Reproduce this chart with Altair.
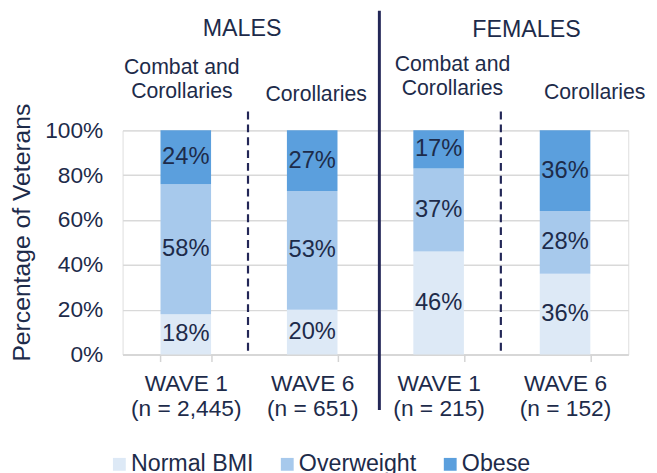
import altair as alt
import pandas as pd

groups = ["WAVE 1|(n = 2,445)", "WAVE 6|(n = 651)", "WAVE 1|(n = 215)", "WAVE 6|(n = 152)"]
bmi_classes = ["Normal BMI", "Overweight", "Obese"]
normal_bmi = [18, 20, 46, 36]
overweight = [58, 53, 37, 28]
obese = [24, 27, 17, 36]
colors = ["#dde9f6", "#a7c9ec", "#5b9fdd"]
y_ticks = [0, 20, 40, 60, 80, 100]

TXT = "#1d2b4a"
NAVY = "#232757"
FONT = "Liberation Sans"

rows = []
for i, g in enumerate(groups):
    for j, (c, vals) in enumerate(zip(bmi_classes, [normal_bmi, overweight, obese])):
        rows.append({"group": g, "bmi": c, "value": vals[i], "order": j})
df = pd.DataFrame(rows)

W, H = 512, 227

xenc = alt.X(
    "group:N",
    sort=groups,
    scale=alt.Scale(paddingInner=0.6, paddingOuter=0.3),
    axis=alt.Axis(
        title=None, labelAngle=0, labelExpr="split(datum.label, '|')",
        labelFontSize=23, labelLineHeight=26, labelPadding=11, labelColor=TXT,
        labelFont=FONT, tickBand="extent", tickSize=7, tickColor="#d4d4d4",
        domainColor="#d4d4d4", domainWidth=1.5, tickWidth=1.5, grid=False,
    ),
)
yscale = alt.Scale(domain=[0, 100], nice=False)

bars = alt.Chart(df).mark_bar().encode(
    x=xenc,
    y=alt.Y(
        "value:Q", stack="zero", scale=yscale,
        axis=alt.Axis(
            values=y_ticks, labelExpr="datum.value + '%'", title="Percentage of Veterans",
            titleFontSize=25, titleFont=FONT, titleColor=TXT, titleFontWeight="normal",
            titleAngle=270, titleX=-94, titleY=103, titleAlign="center", titleBaseline="alphabetic",
            labelFontSize=23, labelColor=TXT, labelFont=FONT, labelPadding=20,
            domain=False, ticks=False, grid=True, gridColor="#d9d9d9", gridWidth=1.5,
        ),
    ),
    color=alt.Color(
        "bmi:N",
        scale=alt.Scale(domain=bmi_classes, range=colors),
        legend=alt.Legend(
            orient="none", legendX=-15, legendY=326, direction="horizontal", title=None,
            symbolType="square", symbolSize=169, symbolStrokeWidth=0, labelFontSize=23.5,
            labelFont=FONT, labelColor=TXT, columnPadding=22, labelOffset=0, padding=0,
        ),
    ),
    order=alt.Order("order:Q"),
)

labels = alt.Chart(df).transform_stack(
    stack="value", as_=["v0", "v1"], groupby=["group"], sort=[alt.SortField("order")]
).transform_calculate(
    mid="(datum.v0 + datum.v1) / 2", lab="datum.value + '%'"
).mark_text(fontSize=24, font=FONT, color=TXT, baseline="middle").encode(
    x=xenc, y=alt.Y("mid:Q", scale=yscale), text="lab:N"
)

one = alt.Data(values=[{}])


def note(text, px, py, size=23, line=24):
    return alt.Chart(one).mark_text(
        text=text, fontSize=size, font=FONT, color=TXT, align="center",
        baseline="middle", lineHeight=line,
    ).encode(x=alt.value(px - 124), y=alt.value(py - 129))


notes = [
    note("MALES", 245, 26, size=23.5),
    note("FEMALES", 533, 27, size=23.5),
    note(["Combat and", "Corollaries"], 184, 66, size=21.5),
    note("Corollaries", 320, 93, size=21.5),
    note(["Combat and", "Corollaries"], 458, 63, size=21.5),
    note("Corollaries", 602, 91, size=21.5),
]

solid = alt.Chart(one).mark_rule(color=NAVY, strokeWidth=3).encode(
    x=alt.value(384 - 124), y=alt.value(8 - 129), y2=alt.value(412 - 129)
)
dashed = [
    alt.Chart(one).mark_rule(color=NAVY, strokeWidth=2.2, strokeDash=[8, 5]).encode(
        x=alt.value(px - 124), y=alt.value(110 - 129), y2=alt.value(H)
    )
    for px in (251, 507)
]

chart = alt.layer(bars, labels, *notes, solid, *dashed).properties(
    width=W, height=H,
    autosize=alt.AutoSizeParams(type="none"),
    padding={"left": 116, "top": 121, "right": 21, "bottom": 117},
).configure_view(stroke=None).configure(font=FONT)

chart.save("out.html", embed_options={"renderer": "svg", "actions": False})
